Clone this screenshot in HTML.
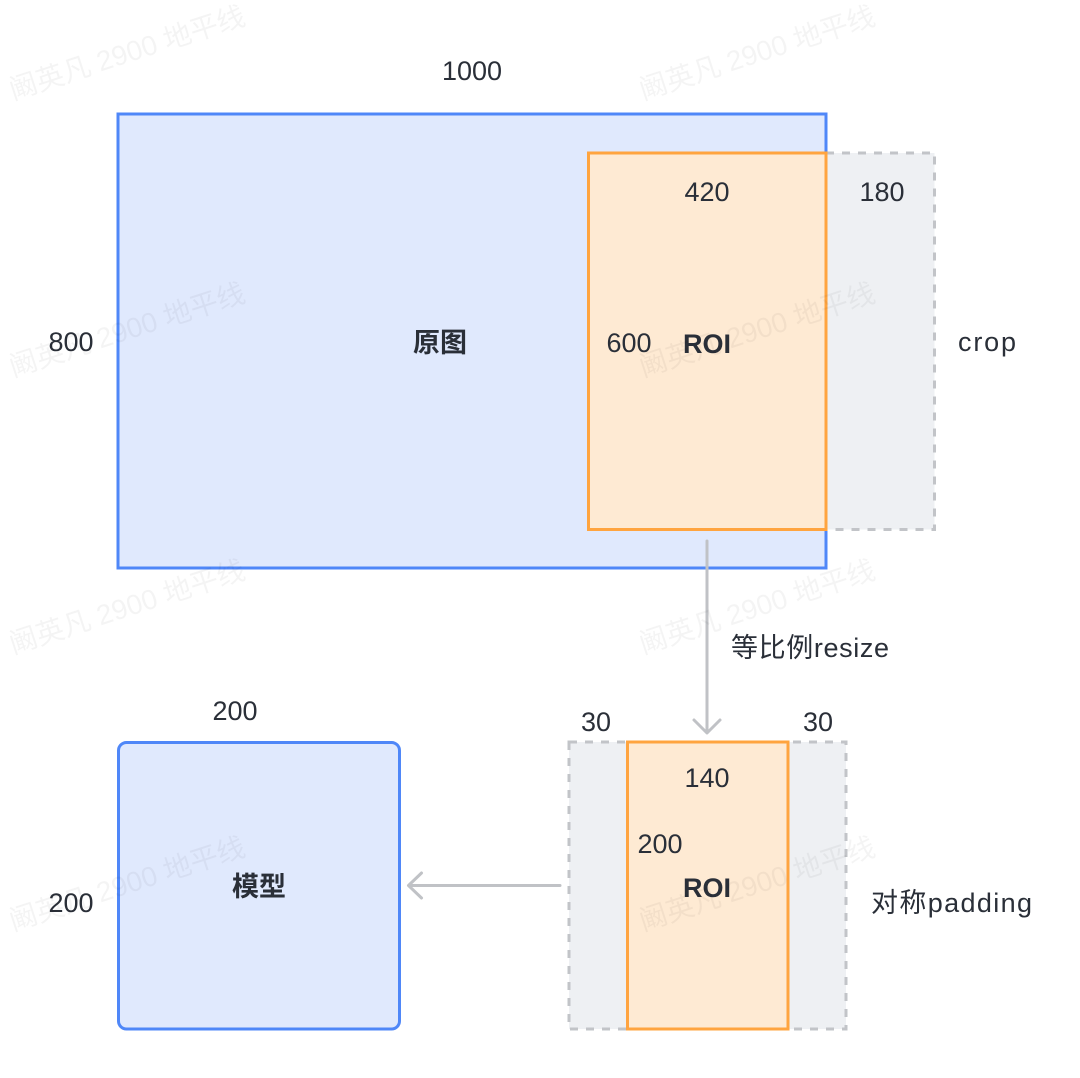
<!DOCTYPE html>
<html>
<head>
<meta charset="utf-8">
<style>
  html, body { margin: 0; padding: 0; background: #ffffff; }
  body { width: 1080px; height: 1078px; overflow: hidden; }
  svg { display: block; }
  .t { font-family: "Liberation Sans", "Noto Sans CJK SC", sans-serif; font-size: 27px; fill: #2a2f38; }
  .b { font-weight: 700; }
  .wm { font-family: "Liberation Sans", "Noto Sans CJK SC", sans-serif; font-size: 28px; fill: rgba(0,0,0,0.045); }
</style>
</head>
<body>
<svg width="1080" height="1078" viewBox="0 0 1080 1078" xmlns="http://www.w3.org/2000/svg">
  <rect x="0" y="0" width="1080" height="1078" fill="#ffffff"/>

  <!-- Top: original image -->
  <rect x="118" y="114" width="708" height="454" fill="#e0e9fd" stroke="#4f87f8" stroke-width="3"/>
  <!-- crop region (dashed gray) -->
  <rect x="826" y="153" width="108.5" height="376.5" fill="#eef0f3" stroke="#c2c4c8" stroke-width="3" stroke-dasharray="8 8"/>
  <!-- ROI -->
  <rect x="588.5" y="153" width="237.5" height="376.5" fill="#feead3" stroke="#ffa43f" stroke-width="3"/>

  <!-- Vertical arrow -->
  <line x1="707" y1="541" x2="707" y2="731" stroke="#c0c2c6" stroke-width="3" stroke-linecap="round"/>
  <polyline points="694,720 707,733 720,720" fill="none" stroke="#c0c2c6" stroke-width="3" stroke-linecap="round" stroke-linejoin="round"/>

  <!-- Bottom: padded ROI -->
  <rect x="569" y="742" width="277" height="287" fill="#eef0f3" stroke="#c2c4c8" stroke-width="3" stroke-dasharray="8 8"/>
  <rect x="627.5" y="742" width="160.5" height="287" fill="#feead3" stroke="#ffa43f" stroke-width="3"/>

  <!-- Model box -->
  <rect x="118.5" y="742.5" width="281" height="286.5" rx="8" ry="8" fill="#e0e9fd" stroke="#4f87f8" stroke-width="3"/>

  <!-- Horizontal arrow -->
  <line x1="560" y1="885.5" x2="410" y2="885.5" stroke="#c0c2c6" stroke-width="3" stroke-linecap="round"/>
  <polyline points="421.5,873 408.5,885.5 421.5,898" fill="none" stroke="#c0c2c6" stroke-width="3" stroke-linecap="round" stroke-linejoin="round"/>

  <!-- Labels -->
  <text class="t" x="472" y="71" text-anchor="middle" dominant-baseline="central">1000</text>
  <text class="t" x="707" y="192" text-anchor="middle" dominant-baseline="central">420</text>
  <text class="t" x="882" y="192" text-anchor="middle" dominant-baseline="central">180</text>
  <text class="t" x="71" y="342" text-anchor="middle" dominant-baseline="central">800</text>
  <text class="t b" x="440" y="343" text-anchor="middle" dominant-baseline="central">原图</text>
  <text class="t" x="629" y="343" text-anchor="middle" dominant-baseline="central">600</text>
  <text class="t b" x="707" y="344" text-anchor="middle" dominant-baseline="central">ROI</text>
  <text class="t" x="958" y="342" text-anchor="start" dominant-baseline="central" textLength="58" lengthAdjust="spacing">crop</text>
  <text class="t" x="731" y="648" text-anchor="start" dominant-baseline="central" textLength="158" lengthAdjust="spacing">等比例resize</text>

  <text class="t" x="235" y="711" text-anchor="middle" dominant-baseline="central">200</text>
  <text class="t" x="596" y="722" text-anchor="middle" dominant-baseline="central">30</text>
  <text class="t" x="818" y="722" text-anchor="middle" dominant-baseline="central">30</text>
  <text class="t" x="707" y="778" text-anchor="middle" dominant-baseline="central">140</text>
  <text class="t" x="660" y="844" text-anchor="middle" dominant-baseline="central">200</text>
  <text class="t b" x="707" y="888" text-anchor="middle" dominant-baseline="central">ROI</text>
  <text class="t" x="71" y="903" text-anchor="middle" dominant-baseline="central">200</text>
  <text class="t b" x="259" y="887" text-anchor="middle" dominant-baseline="central">模型</text>
  <text class="t" x="871" y="903" text-anchor="start" dominant-baseline="central" textLength="161" lengthAdjust="spacing">对称padding</text>

  <!-- Watermarks -->
  <text class="wm" x="127" y="53" text-anchor="middle" dominant-baseline="central" transform="rotate(-18 127 53)">阚英凡 2900 地平线</text>
  <text class="wm" x="757" y="53" text-anchor="middle" dominant-baseline="central" transform="rotate(-18 757 53)">阚英凡 2900 地平线</text>
  <text class="wm" x="127" y="330" text-anchor="middle" dominant-baseline="central" transform="rotate(-18 127 330)">阚英凡 2900 地平线</text>
  <text class="wm" x="757" y="330" text-anchor="middle" dominant-baseline="central" transform="rotate(-18 757 330)">阚英凡 2900 地平线</text>
  <text class="wm" x="127" y="607" text-anchor="middle" dominant-baseline="central" transform="rotate(-18 127 607)">阚英凡 2900 地平线</text>
  <text class="wm" x="757" y="607" text-anchor="middle" dominant-baseline="central" transform="rotate(-18 757 607)">阚英凡 2900 地平线</text>
  <text class="wm" x="127" y="884" text-anchor="middle" dominant-baseline="central" transform="rotate(-18 127 884)">阚英凡 2900 地平线</text>
  <text class="wm" x="757" y="884" text-anchor="middle" dominant-baseline="central" transform="rotate(-18 757 884)">阚英凡 2900 地平线</text>
</svg>
</body>
</html>
